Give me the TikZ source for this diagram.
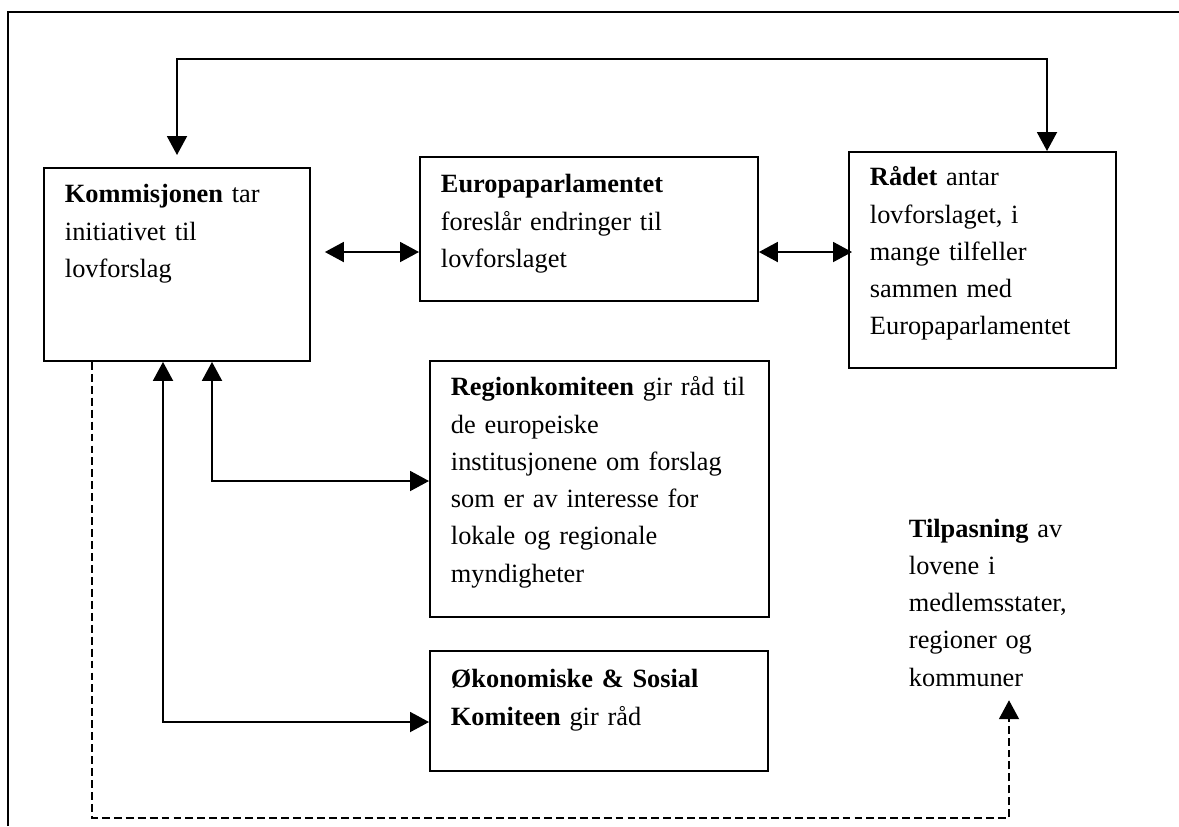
\documentclass[tikz,border=0pt]{standalone}
\usepackage{fontspec}
\setmainfont{Liberation Serif}
\usepackage{tikz}
\usetikzlibrary{arrows.meta,calc}

\begin{document}
\begin{tikzpicture}[x=0.02cm,y=-0.02cm,line width=1.1pt,
    >={Triangle[length=0.38cm,width=0.4cm]},
    inst/.style={draw,anchor=north west,align=left,inner xsep=0.42cm,inner ysep=0pt,
      font=\fontsize{15}{21.2}\selectfont},
    stiplet/.style={dash pattern=on 4.5pt off 2.3pt}]
  \useasboundingbox (0,0) rectangle (1179,826);

  % ramme
  \draw (8,826) |- (1179,12);

  \node[inst,text width=4.48cm,text height=0.70cm,text depth=3.16cm] at (43,167) (kom)
    {\textbf{Kommisjonen} tar\\initiativet til\\lovforslag};
  \node[inst,text width=5.92cm,text height=0.72cm,text depth=2.16cm] at (419,156) (eur)
    {\textbf{Europaparlamentet}\\foreslår endringer til\\lovforslaget};
  \node[inst,text width=4.50cm,text height=0.68cm,text depth=3.64cm] at (848,151) (raad)
    {\textbf{Rådet} antar\\lovforslaget, i\\mange tilfeller\\sammen med\\Europaparlamentet};
  \node[inst,text width=5.94cm,text height=0.70cm,text depth=4.42cm] at (429,360) (reg)
    {\textbf{Regionkomiteen} gir råd til\\de europeiske\\institusjonene om forslag\\som er av interesse for\\lokale og regionale\\myndigheter};
  \node[inst,text width=5.92cm,text height=0.74cm,text depth=1.66cm] at (429,650) (oek)
    {\textbf{Økonomiske \& Sosial}\\\textbf{Komiteen} gir råd};
  \node[inst,draw=none,anchor=base west,inner xsep=0pt,text width=3.4cm] at (908,537) (tilp)
    {\textbf{Tilpasning} av\\lovene i\\medlemsstater,\\regioner og\\kommuner};

  \coordinate (topp) at (1047,59);
  \coordinate (niva) at (0,252);
  \coordinate (bunn) at (1009,818);

  \draw[<->] ($(kom.north west)+(134,-12)$) |- (topp) -- (topp |- raad.north);
  \draw[<->] ($(kom.east |- niva)+(14,0)$) -- (eur.west |- niva);
  \draw[<->] (eur.east |- niva) -- ($(raad.west |- niva)+(4,0)$);

  \draw[<->] ($(kom.south west)+(169,0)$) |- ($(reg.north west)+(0,121)$);
  \draw[<->] ($(kom.south west)+(120,0)$) |- ($(oek.north west)+(0,72)$);

  \draw[stiplet,->] ($(kom.south west)+(49,0)$) |- (bunn) -- ($(bunn |- tilp.south)+(0,13)$);
\end{tikzpicture}
\end{document}
